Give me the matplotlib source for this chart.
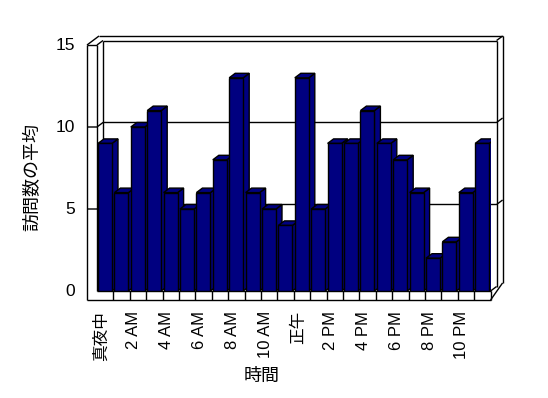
import matplotlib
matplotlib.use('Agg')
import matplotlib.pyplot as plt
from matplotlib.patches import Polygon

plt.rcParams['font.family'] = ['Liberation Sans', 'Noto Sans CJK JP']

# data
hours = ['真夜中', '1 AM', '2 AM', '3 AM', '4 AM', '5 AM', '6 AM', '7 AM', '8 AM', '9 AM',
         '10 AM', '11 AM', '正午', '1 PM', '2 PM', '3 PM', '4 PM', '5 PM', '6 PM', '7 PM',
         '8 PM', '9 PM', '10 PM', '11 PM']
visits = [9, 6, 10, 11, 6, 5, 6, 8, 13, 6, 5, 4, 13, 5, 9, 9, 11, 9, 8, 6, 2, 3, 6, 9]
y_ticks = [0, 5, 10, 15]

W, H = 548, 398
U = 16.4  # pixels per unit on both axes
fig = plt.figure(figsize=(W / 100, H / 100), dpi=100)
n = len(visits)
ax = fig.add_axes([97 / W, (H - 291) / H, n * U / W, 15 * U / H])
ax.set_xlim(0, n)
ax.set_ylim(0, 15)
ax.axis('off')

# depth offset (data units)
dx, dy = 6 / U, 4.5 / U
wall = 10 / U      # left wall thickness
floor = 9 / U      # floor thickness
top = 15
right = n

def line(xs, ys, z=1):
    ax.plot(xs, ys, color='black', lw=1, clip_on=False, zorder=z, solid_capstyle='butt')

# outer box
line([-wall, -wall], [-floor, top])
line([-wall, 0], [top, top])
line([-wall, -wall + 2 * dx], [top, top + 2 * dy])
line([-wall + 2 * dx, right + 2 * dx], [top + 2 * dy, top + 2 * dy])
line([right + 2 * dx, right + 2 * dx], [top + 2 * dy, 2 * dy - floor * 0.1])
line([right + 2 * dx, right], [2 * dy - floor * 0.1, -floor])
line([right, -wall], [-floor, -floor])

# inner faces
line([0, 0], [0, top])
line([0, dx], [top, top + dy])
line([dx, right + dx], [top + dy, top + dy])
line([right + dx, right + 2 * dx], [top + dy, top + 2 * dy])
line([right + dx, right + dx], [top + dy, dy])
line([dx, dx], [top + dy, dy])
line([0, right], [0, 0])
line([right, right], [0, -floor])
line([right, right + dx], [0, dy])
for i in range(1, n):
    line([i, i], [0, -floor])

# gridlines
for g in y_ticks[1:-1]:
    line([-wall, 0, dx, right + dx, right + 2 * dx],
         [g, g, g + dy, g + dy, g + 2 * dy], z=0.5)

# bars
bw = 14 / U
face = '#000080'
for i, v in enumerate(visits):
    x0 = i + 1 / U
    x1 = x0 + bw
    z = 2 + i * 0.01
    ax.add_patch(Polygon([(x1, 0), (x1, v), (x1 + dx, v + dy), (x1 + dx, dy)],
                         closed=True, facecolor=face, edgecolor='black', lw=1, zorder=z))
    ax.add_patch(Polygon([(x0, v), (x1, v), (x1 + dx, v + dy), (x0 + dx, v + dy)],
                         closed=True, facecolor=face, edgecolor='black', lw=1, zorder=z))
    ax.add_patch(Polygon([(x0, 0), (x1, 0), (x1, v), (x0, v)],
                         closed=True, facecolor=face, edgecolor='black', lw=1, zorder=z))

# tick labels
for t in y_ticks:
    ax.text(-22 / U, t, str(t), ha='right', va='center', fontsize=12.5, clip_on=False)
for i in range(0, n, 2):
    ax.text(i + 0.5 - 4 / U, -20 / U, hours[i], rotation=90, ha='center', va='top',
            fontsize=12, clip_on=False)

fig.text(262 / W, 1 - 376 / H, '時間', ha='center', va='center', fontsize=13)
fig.text(33 / W, 1 - 177 / H, '訪問数の平均', ha='center', va='center', rotation=90, fontsize=13)

fig.savefig('out.png', dpi=100)
